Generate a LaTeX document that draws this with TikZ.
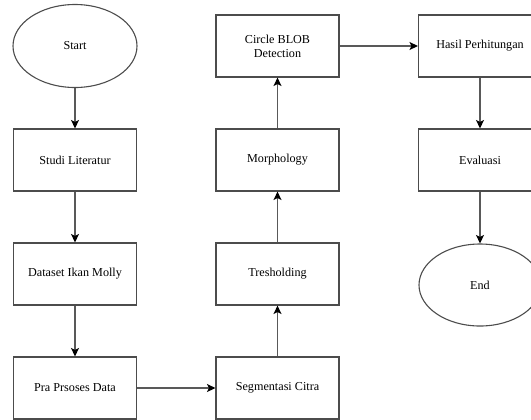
\documentclass[tikz,border=0pt]{standalone}
\usepackage{fontspec}
\setmainfont{Liberation Serif}
\usepackage{tikz}
\usetikzlibrary{arrows.meta,shapes.geometric}

\begin{document}
\begin{tikzpicture}[x=1bp,y=-1bp,
        font=\fontsize{12.2}{14}\selectfont,
        proses/.style={draw=black!70, line width=1.1bp, rectangle, minimum width=123bp, minimum height=62bp, inner sep=1bp, align=center},
        terminal/.style={draw=black!70, line width=1.1bp, ellipse, minimum width=124bp, minimum height=83bp, inner sep=0pt},
        alur/.style={draw=black!65, line width=1.3bp, -{Stealth[length=8.5bp,width=8bp,inset=2bp,color=black]}}]

    \useasboundingbox (0,0) rectangle (531,419);

    % kolom 1
    \node [terminal] (start) at (75,46) {Start};
    \node [proses] (studi) at (75,160) {Studi Literatur};
    \node [proses] (dataset) at (75,274) {Dataset Ikan Molly};
    \node [proses] (praproses) at (75,388) {Pra Prsoses Data};

    % kolom 2
    \node [proses] (segmentasi) at (277.5,388) {Segmentasi Citra};
    \node [proses] (tresholding) at (277.5,274) {Tresholding};
    \node [proses] (morphology) at (277.5,160) {Morphology};
    \node [proses] (blob) at (277.5,46) {Circle BLOB\\Detection};

    % kolom 3
    \node [proses] (hasil) at (480,46) {Hasil Perhitungan};
    \node [proses] (evaluasi) at (480,160) {Evaluasi};
    \node [terminal, minimum width=122bp, minimum height=82bp] (end) at (480,285) {End};

    % panah
    \draw [alur] (start) -- (studi);
    \draw [alur] (studi) -- (dataset);
    \draw [alur] (dataset) -- (praproses);
    \draw [alur] (praproses) -- (segmentasi);
    \draw [alur] (segmentasi) -- (tresholding);
    \draw [alur] (tresholding) -- (morphology);
    \draw [alur] (morphology) -- (blob);
    \draw [alur] (blob) -- (hasil);
    \draw [alur] (hasil) -- (evaluasi);
    \draw [alur] (evaluasi) -- (end);

\end{tikzpicture}
\end{document}
